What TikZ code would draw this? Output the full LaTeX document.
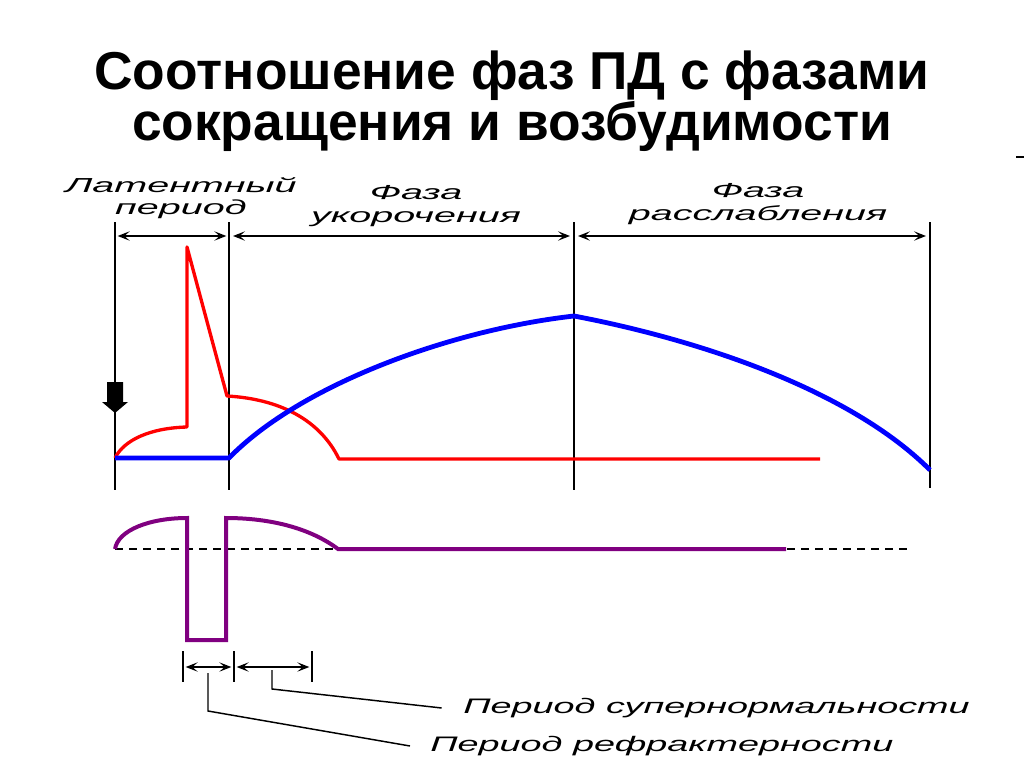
\documentclass[tikz,border=0pt]{standalone}
\usepackage{fontspec}
\setmainfont{Liberation Sans}
\newfontfamily\phasefont[FakeStretch=1.95]{Liberation Sans}
\newfontfamily\periodfont[FakeStretch=1.8]{Liberation Sans}
\usetikzlibrary{arrows.meta,positioning}
\definecolor{apurple}{RGB}{128,0,128}
\tikzset{
  guide/.style={black, line width=1.5pt},
  span/.style={black, line width=1.1pt, {Stealth[length=9pt,width=7pt,inset=4pt]}-{Stealth[length=9pt,width=7pt,inset=4pt]}},
  leader/.style={black, line width=1.1pt},
  redcurve/.style={red, line width=2.5pt, line join=round},
  bluecurve/.style={blue, line width=3.6pt, line join=round},
  purplecurve/.style={apurple, line width=3pt, line join=miter},
  phaselabel/.style={font=\phasefont\itshape\fontsize{15.2}{17}\selectfont, align=center, inner sep=0pt},
  periodlabel/.style={font=\periodfont\itshape\fontsize{15.75}{18}\selectfont, anchor=west, inner sep=0pt}
}
\begin{document}
\begin{tikzpicture}[x=0.75pt,y=0.75pt,yscale=-1,xscale=1]
    \fill[white] (0,0) rectangle (1024,767);
    \useasboundingbox (0,0) rectangle (1024,767);

    % title
    \node (title) [font=\bfseries\fontsize{40}{36}\selectfont, align=center, inner sep=0pt] at (512,101)
        {Соотношение фаз ПД с фазами\\сокращения и возбудимости};
    \draw[line width=1pt] (1016,157) -- (1024,157);

    % phase boundaries
    \coordinate (mA) at (115,222);
    \coordinate (mB) at (229,222);
    \coordinate (mC) at (574,222);
    \coordinate (mD) at (930,222);
    \draw[guide] (mA) -- (115,490);
    \draw[guide] (mB) -- (229,490);
    \draw[guide] (mC) -- (574,490);
    \draw[guide] (mD) -- (930,488);

    % phase spans
    \draw[span] ([xshift=2]mA |- 0,236) -- ([xshift=-2]mB |- 0,236);
    \draw[span] ([xshift=3]mB |- 0,236) -- ([xshift=-3]mC |- 0,236);
    \draw[span] ([xshift=3]mC |- 0,236) -- ([xshift=-3]mD |- 0,236);
    \node (lblLatent) [phaselabel] at (181,198) {Латентный\\период};
    \node (lblShort) [phaselabel] at (416,206) {Фаза\\укорочения};
    \node (lblRelax) [phaselabel] at (758,204) {Фаза\\расслабления};

    % stimulus
    \fill[black] (107,382) -- (123,382) -- (123,402) -- (128,402) -- (115,413) -- (102,402) -- (107,402) -- cycle;

    % action potential
    \draw[redcurve] (115,458) .. controls (124,440) and (150,428) .. (187,427) -- (187,247)
        -- (227,396) .. controls (280,399) and (320,420) .. (339,459) -- (820,459);

    % contraction
    \draw[bluecurve] (115,458) -- (229,458) .. controls (300,385) and (450,330) .. (574,316)
        .. controls (700,340) and (850,390) .. (930,470);

    % excitability
    \draw[black, line width=1.1pt, dash pattern=on 6pt off 4.5pt] (115,549) -- (912,549);
    \draw[purplecurve] (115,549) .. controls (118,530) and (150,518) .. (187,518) -- (187,640)
        -- (226,640) -- (226,518) .. controls (270,518) and (310,528) .. (338,549) -- (786,549);

    % period spans
    \coordinate (tA) at (183,651);
    \coordinate (tB) at (234,651);
    \coordinate (tC) at (312,651);
    \draw[guide] (tA) -- (183,682);
    \draw[guide] (tB) -- (234,682);
    \draw[guide] (tC) -- (312,682);
    \draw[span] ([xshift=2]tA |- 0,667) -- ([xshift=-2]tB |- 0,667);
    \draw[span] ([xshift=2]tB |- 0,667) -- ([xshift=-2]tC |- 0,667);

    \node (lblSuper) [periodlabel] at (463,708) {Период супернормальности};
    \node (lblRefr) [periodlabel] at (430,746) {Период рефрактерности};
    \draw[leader] (272,670) -- (272,689) -- ([xshift=-16]lblSuper.west);
    \draw[leader] (208,673) -- (208,711) -- ([xshift=-15]lblRefr.west);
\end{tikzpicture}
\end{document}
